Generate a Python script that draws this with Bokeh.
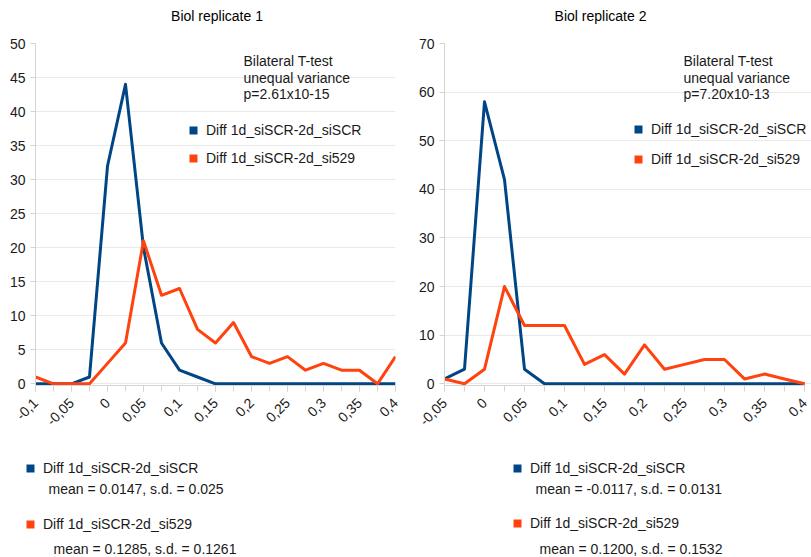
import math
from bokeh.plotting import figure
from bokeh.models import (Range1d, FixedTicker, Legend, LegendItem, Label)
from bokeh.layouts import row, column
from bokeh.embed import file_html
from bokeh.resources import INLINE

# ---------------- data ----------------
titles = ["Biol replicate 1", "Biol replicate 2"]
series_names = ["Diff 1d_siSCR-2d_siSCR", "Diff 1d_siSCR-2d_si529"]
ttest_lines_1 = ["Bilateral T-test", "unequal variance", "p=2.61x10-15"]
ttest_lines_2 = ["Bilateral T-test", "unequal variance", "p=7.20x10-13"]
stats_1 = ["mean = 0.0147, s.d. = 0.025", "mean = 0.1285, s.d. = 0.1261"]
stats_2 = ["mean = -0.0117, s.d. = 0.0131", "mean = 0.1200, s.d. = 0.1532"]

x1 = [-0.1, -0.075, -0.05, -0.025, 0.0, 0.025, 0.05, 0.075, 0.1, 0.125, 0.15,
      0.175, 0.2, 0.225, 0.25, 0.275, 0.3, 0.325, 0.35, 0.375, 0.4]
scr1 = [0, 0, 0, 1, 32, 44, 20, 6, 2, 1, 0, 0, 0, 0, 0, 0, 0, 0, 0, 0, 0]
si529_1 = [1, 0, 0, 0, 3, 6, 21, 13, 14, 8, 6, 9, 4, 3, 4, 2, 3, 2, 2, 0, 4]

x2 = [-0.05, -0.025, 0.0, 0.025, 0.05, 0.075, 0.1, 0.125, 0.15, 0.175, 0.2,
      0.225, 0.25, 0.275, 0.3, 0.325, 0.35, 0.375, 0.4]
scr2 = [1, 3, 58, 42, 3, 0, 0, 0, 0, 0, 0, 0, 0, 0, 0, 0, 0, 0, 0]
si529_2 = [1, 0, 3, 20, 12, 12, 12, 4, 6, 2, 8, 3, 4, 5, 5, 1, 2, 1, 0]

xticks1 = [-0.1, -0.05, 0, 0.05, 0.1, 0.15, 0.2, 0.25, 0.3, 0.35, 0.4]
xlabels1 = ["-0,1", "-0,05", "0", "0,05", "0,1", "0,15", "0,2", "0,25", "0,3", "0,35", "0,4"]
xticks2 = [-0.05, 0, 0.05, 0.1, 0.15, 0.2, 0.25, 0.3, 0.35, 0.4]
xlabels2 = ["-0,05", "0", "0,05", "0,1", "0,15", "0,2", "0,25", "0,3", "0,35", "0,4"]
yticks1 = [0, 5, 10, 15, 20, 25, 30, 35, 40, 45, 50]
yticks2 = [0, 10, 20, 30, 40, 50, 60, 70]

# ---------------- style ----------------
BLUE = "#004586"
ORANGE = "#ff420e"
FONT = "Liberation Sans"
FS = "14px"
TXT = "#1a1a1a"
GRID = "#e9e9e9"
AXIS = "#d4d4d4"
NAN = float("nan")

TITLE_H = 30
TOP_H = 410
BOT_H = 557 - TITLE_H - TOP_H
FRAME_TOP = 43      # page y of frame top
FRAME_BOTTOM = 385  # page y of frame bottom


def blank(width, height):
    b = figure(width=width, height=height, output_backend="svg", toolbar_location=None,
               x_range=Range1d(0, width), y_range=Range1d(0, height),
               x_axis_type=None, y_axis_type=None, min_border=0)
    b.outline_line_color = None
    b.grid.visible = False
    return b


def swatch_legend(fig, loc, spacing, standoff=3):
    sq_a = fig.scatter(x=[NAN], y=[NAN], marker="square", fill_color=BLUE, line_color=None)
    sq_b = fig.scatter(x=[NAN], y=[NAN], marker="square", fill_color=ORANGE, line_color=None)
    lg = Legend(items=[LegendItem(label=series_names[0], renderers=[sq_a]),
                       LegendItem(label=series_names[1], renderers=[sq_b])],
                location=loc, orientation="vertical", padding=0, margin=0,
                spacing=spacing, glyph_width=20, glyph_height=20,
                label_standoff=standoff, label_height=20,
                label_text_font=FONT, label_text_font_size=FS,
                label_text_color=TXT, border_line_color=None,
                background_fill_alpha=0)
    fig.add_layout(lg, "center")


def make_title(width, cx, text):
    t = blank(width, TITLE_H)
    t.add_layout(Label(x=cx, y=TITLE_H - 15, x_units="screen", y_units="screen",
                       text=text, text_align="center", text_baseline="middle",
                       text_font=FONT, text_font_size=FS, text_color="#000000"))
    return t


def make_panel(xs, ys_a, ys_b, xticks, xlabels, yticks, ymax, ystart, width,
               left_border, right_border, x_end, ttest, ttest_x, leg_loc, leg_spacing):
    p = figure(width=width, height=TOP_H, output_backend="svg", toolbar_location=None,
               x_range=Range1d(xs[0], x_end), y_range=Range1d(ystart, ymax),
               min_border_left=left_border, min_border_right=right_border,
               min_border_top=FRAME_TOP - TITLE_H,
               min_border_bottom=TITLE_H + TOP_H - FRAME_BOTTOM)
    p.outline_line_color = None
    p.background_fill_color = "white"
    p.border_fill_color = "white"

    # axes
    p.xaxis.ticker = FixedTicker(ticks=xticks, minor_ticks=xs)
    p.xaxis.major_label_overrides = {t: l for t, l in zip(xticks, xlabels)}
    p.xaxis.major_label_orientation = math.pi / 4
    p.xaxis.bounds = (xs[0], xs[-1])
    p.yaxis.ticker = FixedTicker(ticks=yticks)
    for ax in (p.xaxis[0], p.yaxis[0]):
        ax.axis_line_color = AXIS
        ax.major_tick_line_color = AXIS
        ax.minor_tick_line_color = AXIS
        ax.major_tick_in = 0
        ax.minor_tick_in = 0
        ax.major_label_text_font = FONT
        ax.major_label_text_font_size = FS
        ax.major_label_text_color = TXT
        ax.major_label_standoff = 5
    p.xaxis.major_label_standoff = 9
    p.xaxis.major_tick_out = 6
    p.xaxis.minor_tick_out = 6
    p.yaxis.major_tick_out = 5
    p.yaxis.minor_tick_out = 0
    p.xgrid.grid_line_color = None
    p.ygrid.ticker = FixedTicker(ticks=yticks)
    p.ygrid.grid_line_color = GRID

    # lines
    p.line(xs, ys_a, line_color=BLUE, line_width=3, line_join="round")
    p.line(xs, ys_b, line_color=ORANGE, line_width=3, line_join="round")

    swatch_legend(p, leg_loc, leg_spacing)

    # t-test annotation
    for t, yy in zip(ttest, [60, 77, 93]):
        p.add_layout(Label(x=ttest_x, y=FRAME_BOTTOM - yy, x_units="screen", y_units="screen",
                           text=t, text_align="left", text_baseline="middle",
                           text_font=FONT, text_font_size=FS, text_color=TXT))
    return p


def make_bottom(width, x0, leg_loc, spacing, stats, stats_x):
    b = blank(width, BOT_H)
    swatch_legend(b, leg_loc, spacing)
    for t, sx, yy in zip(stats, stats_x, [488, 548]):
        b.add_layout(Label(x=sx - x0, y=557 - yy, x_units="screen", y_units="screen",
                           text=t, text_align="left", text_baseline="middle",
                           text_font=FONT, text_font_size=FS, text_color=TXT))
    return b


t1 = make_title(405, 216.5, titles[0])
t2 = make_title(406, 600 - 405, titles[1])

p1 = make_panel(x1, scr1, si529_1, xticks1, xlabels1, yticks1, 50, -0.25, 405, 35, 10, 0.4,
                ttest_lines_1, 243 - 35, (148, FRAME_BOTTOM - 168), 8)
p2 = make_panel(x2, scr2, si529_2, xticks2, xlabels2, yticks2, 70, -0.35, 406, 39, 0, 0.40875,
                ttest_lines_2, 683 - 444, (184, FRAME_BOTTOM - 169), 10)

b1 = make_bottom(405, 0, (20, 557 - 534), 36, stats_1, [48, 53])
b2 = make_bottom(406, 405, (507 - 405, 557 - 533), 35, stats_2, [535, 539])

layout = column(row(t1, t2), row(p1, p2), row(b1, b2))
open("out.html", "w").write(file_html(layout, INLINE))
